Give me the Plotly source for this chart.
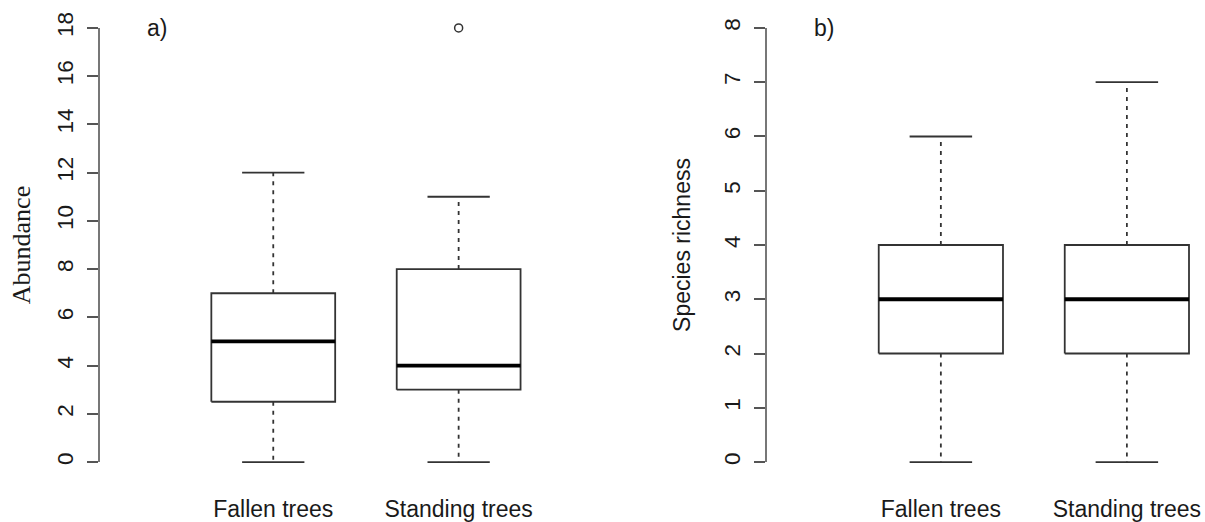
import plotly.graph_objects as go

categories = ["Fallen trees", "Standing trees"]

# Panel a) Abundance
ab_min = [0, 0]
ab_q1 = [2.5, 3]
ab_med = [5, 4]
ab_q3 = [7, 8]
ab_max = [12, 11]
ab_out_cat = [2]
ab_out_val = [18]

# Panel b) Species richness
sr_min = [0, 0]
sr_q1 = [2, 2]
sr_med = [3, 3]
sr_q3 = [4, 4]
sr_max = [6, 7]

ab_ticks = [0, 2, 4, 6, 8, 10, 12, 14, 16, 18]
sr_ticks = [0, 1, 2, 3, 4, 5, 6, 7, 8]

BOX_HALF = 0.334
CAP_HALF = 0.168
BOX_COLOR = "#333333"
AXIS_COLOR = "#555555"
TEXT_COLOR = "#1a1a1a"
SANS = "Liberation Sans, Arial, sans-serif"
SERIF = "Liberation Serif, Times New Roman, serif"

fig = go.Figure()


def add_boxes(xa, ya, mins, q1s, meds, q3s, maxs):
    for i, name in enumerate(categories):
        c = i + 1
        # dashed whiskers
        fig.add_trace(go.Scatter(
            x=[c, c, None, c, c], y=[q3s[i], maxs[i], None, q1s[i], mins[i]],
            mode="lines", line=dict(color=BOX_COLOR, width=1.8, dash="4px,5px"),
            xaxis=xa, yaxis=ya, showlegend=False, hoverinfo="skip"))
        # caps
        fig.add_trace(go.Scatter(
            x=[c - CAP_HALF, c + CAP_HALF, None, c - CAP_HALF, c + CAP_HALF],
            y=[maxs[i], maxs[i], None, mins[i], mins[i]],
            mode="lines", line=dict(color=BOX_COLOR, width=1.8),
            xaxis=xa, yaxis=ya, showlegend=False, hoverinfo="skip"))
        # box
        fig.add_trace(go.Scatter(
            x=[c - BOX_HALF, c + BOX_HALF, c + BOX_HALF, c - BOX_HALF, c - BOX_HALF],
            y=[q1s[i], q1s[i], q3s[i], q3s[i], q1s[i]],
            mode="lines", line=dict(color=BOX_COLOR, width=1.8),
            fill="toself", fillcolor="white",
            xaxis=xa, yaxis=ya, showlegend=False, name=name))
        # median
        fig.add_trace(go.Scatter(
            x=[c - BOX_HALF, c + BOX_HALF], y=[meds[i], meds[i]],
            mode="lines", line=dict(color="#000000", width=3.8),
            xaxis=xa, yaxis=ya, showlegend=False, name=name + " median"))


add_boxes("x", "y", ab_min, ab_q1, ab_med, ab_q3, ab_max)
fig.add_trace(go.Scatter(
    x=ab_out_cat, y=ab_out_val, mode="markers",
    marker=dict(symbol="circle-open", size=8, color=BOX_COLOR, line=dict(width=1.5)),
    xaxis="x", yaxis="y", showlegend=False, cliponaxis=False))

add_boxes("x2", "y2", sr_min, sr_q1, sr_med, sr_q3, sr_max)

W, H = 1205, 522
y_dom = [(H - 479.4) / H, (H - 10.6) / H]

xcommon = dict(range=[0.06, 2.42], tickvals=[1, 2], ticktext=categories,
               showgrid=False, zeroline=False, showline=False, ticks="",
               tickfont=dict(family=SANS, size=23, color=TEXT_COLOR),
               ticklabelstandoff=14)
ycommon = dict(showgrid=False, zeroline=False, showline=False, ticks="outside",
               ticklen=11, tickwidth=1.6, tickcolor=AXIS_COLOR, tickangle=-90,
               tickfont=dict(family=SANS, size=22.5, color=TEXT_COLOR),
               ticklabelstandoff=5, domain=y_dom)

fig.update_layout(
    width=W, height=H,
    margin=dict(l=0, r=0, t=0, b=0),
    plot_bgcolor="white", paper_bgcolor="white",
    xaxis=dict(domain=[99 / W, 536.5 / W], anchor="y", **xcommon),
    yaxis=dict(range=[-0.72, 18.72], tickvals=ab_ticks, anchor="x",
               title=dict(text="Abundance", font=dict(family=SERIF, size=26, color=TEXT_COLOR),
                          standoff=14),
               **ycommon),
    xaxis2=dict(domain=[766 / W, 1.0], anchor="y2", **xcommon),
    yaxis2=dict(range=[-0.32, 8.32], tickvals=sr_ticks, anchor="x2",
                title=dict(text="Species richness", font=dict(family=SANS, size=23, color=TEXT_COLOR),
                           standoff=22),
                **ycommon),
    annotations=[
        dict(text="a)", x=157 / W, y=(H - 28) / H, xref="paper", yref="paper",
             showarrow=False, xanchor="center", yanchor="middle",
             font=dict(family=SANS, size=23, color=TEXT_COLOR)),
        dict(text="b)", x=824 / W, y=(H - 28) / H, xref="paper", yref="paper",
             showarrow=False, xanchor="center", yanchor="middle",
             font=dict(family=SANS, size=23, color=TEXT_COLOR)),
    ],
    shapes=[
        dict(type="line", xref="x domain", yref="y", x0=0, x1=0, y0=0, y1=18,
             line=dict(color=AXIS_COLOR, width=1.6)),
        dict(type="line", xref="x2 domain", yref="y2", x0=0, x1=0, y0=0, y1=8,
             line=dict(color=AXIS_COLOR, width=1.6)),
    ],
)

fig.write_html("out.html", config={"displayModeBar": False},
               post_script="document.body.style.margin='0';document.body.style.overflow='hidden';")
